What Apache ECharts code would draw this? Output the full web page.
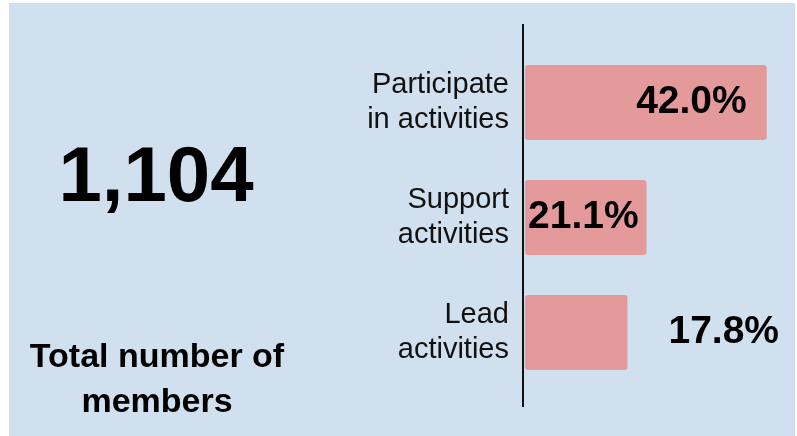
<!DOCTYPE html>
<html>
<head>
<meta charset="utf-8">
<title>Members</title>
<script src="https://cdn.jsdelivr.net/npm/echarts@6/dist/echarts.min.js"></script>
<style>
  html, body { margin: 0; padding: 0; background: #fff; }
  #chart { width: 797px; height: 436px; }
</style>
</head>
<body>
<div id="chart"></div>
<script>
// data
const categories = ['Participate\nin activities', 'Support\nactivities', 'Lead\nactivities']
const shares = [42.0, 21.1, 17.8]
const totalMembers = '1,104'
const totalCaption = 'Total number of\nmembers'

// where each percent label sits (per bar)
const labelPlaces = [
  { position: 'insideRight', distance: 20 },
  { position: 'insideLeft', distance: 3 },
  { position: 'right', distance: 41 }
]

const chart = echarts.init(document.getElementById('chart'))

chart.setOption({
  backgroundColor: '#ffffff',
  animation: false,
  grid: {
    left: 525,
    right: 13,
    top: 45,
    bottom: 46
  },
  xAxis: {
    type: 'value',
    min: 0,
    max: 45,
    show: false
  },
  yAxis: {
    type: 'category',
    data: categories,
    inverse: true,
    axisLine: { show: false },
    axisTick: { show: false },
    axisLabel: {
      margin: 16,
      color: '#111',
      fontFamily: 'Liberation Sans, Arial, sans-serif',
      fontSize: 29,
      lineHeight: 35,
      align: 'right'
    }
  },
  graphic: [
    {
      type: 'rect',
      z: -10,
      silent: true,
      shape: { x: 9, y: 3, width: 786, height: 440 },
      style: { fill: '#d0e0ef' }
    },
    {
      // vertical axis rule, longer than the bar band
      type: 'line',
      silent: true,
      shape: { x1: 523, y1: 24, x2: 523, y2: 407 },
      style: { stroke: '#111', lineWidth: 2 }
    },
    {
      type: 'text',
      x: 156,
      y: 179,
      style: {
        text: totalMembers,
        fill: '#000',
        font: 'bold 78px Liberation Sans, Arial, sans-serif',
        textAlign: 'center',
        textVerticalAlign: 'middle'
      }
    },
    {
      type: 'text',
      x: 157,
      y: 335,
      style: {
        text: totalCaption,
        fill: '#000',
        fontFamily: 'Liberation Sans, Arial, sans-serif',
        fontWeight: 'bold',
        fontSize: 34,
        lineHeight: 45,
        align: 'center',
        verticalAlign: 'top'
      }
    }
  ],
  series: [{
    type: 'bar',
    barWidth: 75,
    data: shares.map((v, i) => ({
      value: v,
      label: labelPlaces[i]
    })),
    itemStyle: {
      color: '#e49a9a',
      borderRadius: 3
    },
    label: {
      show: true,
      color: '#000',
      fontFamily: 'Liberation Sans, Arial, sans-serif',
      fontWeight: 'bold',
      fontSize: 39,
      formatter: p => p.value.toFixed(1) + '%'
    }
  }]
})
</script>
</body>
</html>
